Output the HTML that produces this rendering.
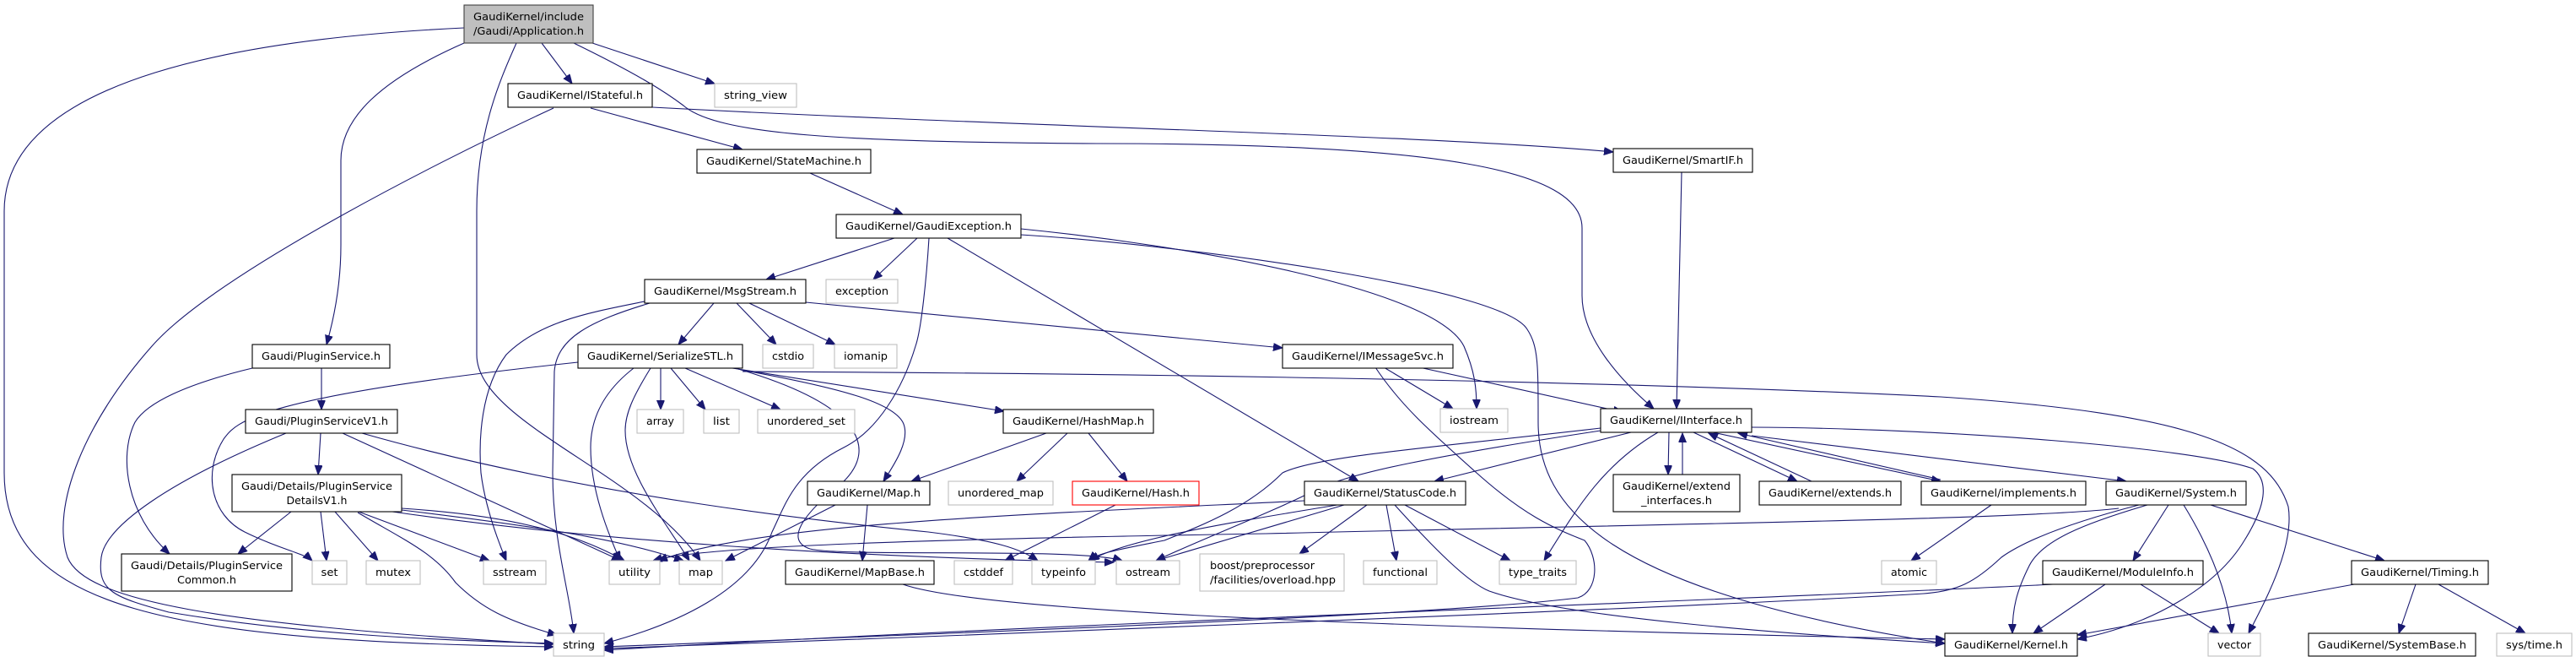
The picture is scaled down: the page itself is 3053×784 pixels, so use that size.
<!DOCTYPE html>
<html><head><meta charset="utf-8"><style>
html,body{margin:0;padding:0;background:#fff;}
svg{display:block;}
text{font-family:"DejaVu Sans","Liberation Sans",sans-serif;font-size:12px;fill:#000;}
.e{fill:none;stroke:#191970;stroke-width:1.1;}
.b{fill:#fff;stroke:#000;stroke-width:1.1;}
.g{fill:#fff;stroke:#bfbfbf;stroke-width:1.1;}
</style></head><body>
<svg width="3053" height="784" viewBox="0 0 3053 784" xmlns="http://www.w3.org/2000/svg">
<defs><marker id="a" markerUnits="userSpaceOnUse" markerWidth="12" markerHeight="10" refX="11" refY="4.5" orient="auto"><path d="M0,0 L11,4.5 L0,9 z" fill="#191970" stroke="#191970"/></marker></defs>
<g marker-end="url(#a)">
<!-- Application -->
<path class="e" d="M550,33 C300,45 5,90 5,250 L5,560 C5,720 200,760 656,766"/>
<path class="e" d="M550,51 C450,95 404,140 404,190 L404,290 C404,340 395,380 387,408"/>
<path class="e" d="M612,51 C590,100 565,160 565,250 L565,420 C565,500 760,560 830,664"/>
<path class="e" d="M642,51 L678,99"/>
<path class="e" d="M702,51 L847,99"/>
<path class="e" d="M680,51 C760,90 790,110 810,125 C850,160 1000,168 1300,170 C1700,170 1875,200 1875,270 L1875,350 C1875,400 1920,450 1960,484"/>
<!-- IStateful -->
<path class="e" d="M656,128 C500,200 250,330 180,410 C100,500 60,600 80,660 C100,710 250,740 656,763"/>
<path class="e" d="M700,128 L880,177"/>
<path class="e" d="M773,127 C1200,150 1700,160 1912,180"/>
<path class="e" d="M960,205 L1070,254"/>
<!-- GaudiException -->
<path class="e" d="M1060,282 L908,331"/>
<path class="e" d="M1087,282 L1035,331"/>
<path class="e" d="M1101,282 C1098,330 1092,390 1085,410 C1070,460 1040,510 1000,530 C940,560 930,600 915,630 C890,700 800,740 716,762"/>
<path class="e" d="M1123,282 L1610,570"/>
<path class="e" d="M1210,271 C1400,290 1700,340 1735,410 C1748,440 1750,460 1750,484"/>
<path class="e" d="M1210,278 C1400,290 1780,340 1810,390 C1823,410 1823,430 1823,500 C1823,600 1900,700 2305,762"/>
<!-- MsgStream -->
<path class="e" d="M846,359 L804,408"/>
<path class="e" d="M873,359 L920,408"/>
<path class="e" d="M888,359 L990,408"/>
<path class="e" d="M955,358 L1520,412"/>
<path class="e" d="M764,357 C700,370 640,380 600,420 C570,460 567,520 570,560 C575,600 590,640 600,664"/>
<path class="e" d="M770,359 C700,380 660,400 657,440 L655,560 C655,640 675,700 680,750"/>
<!-- SerializeSTL -->
<path class="e" d="M783,436 L783,485"/>
<path class="e" d="M795,436 L836,485"/>
<path class="e" d="M812,436 L925,485"/>
<path class="e" d="M685,425 C600,440 555,470 545,500 C530,560 560,620 600,640 C640,660 360,650 375,664" style="display:none"/>
<path class="e" d="M685,429 C620,450 585,470 575,500 C560,560 590,620 560,640" style="display:none"/>
<path class="e" d="M685,429 C300,470 280,500 265,520 C240,560 250,610 290,630 C330,650 360,655 370,664"/>
<path class="e" d="M751,436 C720,460 700,490 700,530 C700,580 720,630 735,664"/>
<path class="e" d="M771,436 C750,470 741,490 741,510 C741,560 790,620 817,664"/>
<path class="e" d="M880,440 C1500,443 2000,455 2300,470 C2600,490 2690,530 2712,600 C2720,650 2680,720 2665,750"/>
<path class="e" d="M868,436 L1190,487"/>
<path class="e" d="M878,438 C1000,460 1057,477 1070,500 C1080,520 1060,550 1047,570"/>
<path class="e" d="M875,437 C1020,480 1040,530 1000,570 C950,610 930,640 960,650 C1000,660 1280,648 1330,664"/>
<!-- PluginService -->
<path class="e" d="M381,436 L381,485"/>
<path class="e" d="M299,436 C220,455 174,477 160,500 C140,540 150,610 201,656"/>
<!-- PluginServiceV1 -->
<path class="e" d="M380,513 L377,562"/>
<path class="e" d="M339,513 C200,570 125,623 120,660 C115,700 134,707 200,725 C350,750 500,758 656,762"/>
<path class="e" d="M406,513 L736,664"/>
<path class="e" d="M429,513 C700,590 1000,620 1100,630 C1180,640 1210,650 1230,664"/>
<!-- DetailsV1 -->
<path class="e" d="M345,606 L282,656"/>
<path class="e" d="M380,606 L387,664"/>
<path class="e" d="M397,606 L448,664"/>
<path class="e" d="M425,606 L580,664"/>
<path class="e" d="M424,607 C480,640 515,655 540,690 C570,720 600,735 660,752"/>
<path class="e" d="M476,602 C600,610 680,630 740,664"/>
<path class="e" d="M476,604 C650,625 740,640 810,664"/>
<path class="e" d="M465,606 C700,640 1000,660 1320,666"/>
<!-- Map / HashMap / Hash -->
<path class="e" d="M990,598 L860,664"/>
<path class="e" d="M1028,598 L1022,664"/>
<path class="e" d="M1240,513 L1080,570"/>
<path class="e" d="M1265,513 L1205,570"/>
<path class="e" d="M1290,513 L1336,570"/>
<path class="e" d="M1322,598 L1191,664"/>
<path class="e" d="M1070,692 C1150,720 1500,740 2305,757"/>
<!-- IMessageSvc -->
<path class="e" d="M1640,435 L1722,484"/>
<path class="e" d="M1682,435 L1923,488"/>
<path class="e" d="M1630,435 C1660,480 1694,510 1750,560 C1806,610 1840,625 1878,640 C1895,660 1895,700 1870,708 C1700,730 1000,755 716,766"/>
<!-- IInterface -->
<path class="e" d="M1933,512 L1700,570"/>
<path class="e" d="M1978,512 L1977,562"/>
<path class="e" d="M1994,562 L1994,513"/>
<path class="e" d="M2007,512 L2130,570"/>
<path class="e" d="M2147,570 L2025,513"/>
<path class="e" d="M2030,512 L2300,570"/>
<path class="e" d="M2300,568 L2060,513"/>
<path class="e" d="M1965,512 C1900,550 1870,600 1830,664"/>
<path class="e" d="M1897,507 C1700,530 1560,540 1520,560 C1480,600 1430,620 1380,640 C1330,650 1300,655 1290,664"/>
<path class="e" d="M1897,510 C1700,540 1600,560 1560,580 C1500,610 1420,640 1370,664"/>
<path class="e" d="M2076,516 L2520,570"/>
<path class="e" d="M2076,506 C2300,507 2600,530 2670,555 C2690,570 2685,600 2660,640 C2627,695 2550,740 2462,757"/>
<!-- System -->
<path class="e" d="M2570,598 L2528,664"/>
<path class="e" d="M2588,598 C2620,650 2640,700 2645,750"/>
<path class="e" d="M2620,598 L2826,664"/>
<path class="e" d="M2545,598 C2470,620 2420,640 2405,670 C2390,700 2385,720 2385,750"/>
<path class="e" d="M2535,598 C2450,620 2400,640 2372,660 C2340,690 2320,700 2280,703 C2000,720 1000,758 716,768"/>
<path class="e" d="M2511,602 C2400,615 2000,620 1500,632 C1000,640 820,650 774,664"/>
<!-- ModuleInfo / Timing -->
<path class="e" d="M2495,692 L2410,750"/>
<path class="e" d="M2537,692 L2630,750"/>
<path class="e" d="M2433,692 C2200,705 1200,740 716,770"/>
<path class="e" d="M2790,692 L2462,752"/>
<path class="e" d="M2863,692 L2843,750"/>
<path class="e" d="M2890,692 L2993,750"/>
<!-- StatusCode -->
<path class="e" d="M1620,598 L1540,656"/>
<path class="e" d="M1643,598 L1655,664"/>
<path class="e" d="M1665,598 L1790,664"/>
<path class="e" d="M1653,598 C1700,650 1740,690 1765,700 C1850,730 2100,750 2305,762"/>
<path class="e" d="M1593,598 L1370,664"/>
<path class="e" d="M1585,598 C1450,620 1330,640 1292,664"/>
<path class="e" d="M1546,593 C1200,610 900,620 780,664"/>
<!-- implements / SmartIF -->
<path class="e" d="M2360,598 L2265,664"/>
<path class="e" d="M1993,204 L1987,484"/>
</g>
<!-- nodes -->
<g>
<rect x="550" y="6" width="153" height="45" fill="#bfbfbf" stroke="#404040" stroke-width="1.1"/>
<text x="626.5" y="24" text-anchor="middle" textLength="131" lengthAdjust="spacingAndGlyphs">GaudiKernel/include</text>
<text x="626.5" y="41" text-anchor="middle" textLength="131" lengthAdjust="spacingAndGlyphs">/Gaudi/Application.h</text>
</g>
<g id="nodes"></g>
<script>
</script>
<g>
<rect class="b" x="602" y="99" width="171" height="28"/><text x="687.5" y="117" text-anchor="middle" textLength="149" lengthAdjust="spacingAndGlyphs">GaudiKernel/IStateful.h</text>
<rect class="g" x="847" y="99" width="97" height="28"/><text x="895.5" y="117" text-anchor="middle" textLength="75" lengthAdjust="spacingAndGlyphs">string_view</text>
<rect class="b" x="826" y="177" width="206" height="28"/><text x="929" y="195" text-anchor="middle" textLength="184" lengthAdjust="spacingAndGlyphs">GaudiKernel/StateMachine.h</text>
<rect class="b" x="1912" y="176" width="165" height="28"/><text x="1994.5" y="194" text-anchor="middle" textLength="143" lengthAdjust="spacingAndGlyphs">GaudiKernel/SmartIF.h</text>
<rect class="b" x="991" y="254" width="219" height="28"/><text x="1100.5" y="272" text-anchor="middle" textLength="197" lengthAdjust="spacingAndGlyphs">GaudiKernel/GaudiException.h</text>
<rect class="b" x="764" y="331" width="191" height="28"/><text x="859.5" y="349" text-anchor="middle" textLength="169" lengthAdjust="spacingAndGlyphs">GaudiKernel/MsgStream.h</text>
<rect class="g" x="979" y="331" width="85" height="28"/><text x="1021.5" y="349" text-anchor="middle" textLength="63" lengthAdjust="spacingAndGlyphs">exception</text>
<rect class="b" x="299" y="408" width="163" height="28"/><text x="380.5" y="426" text-anchor="middle" textLength="141" lengthAdjust="spacingAndGlyphs">Gaudi/PluginService.h</text>
<rect class="b" x="685" y="408" width="195" height="28"/><text x="782.5" y="426" text-anchor="middle" textLength="173" lengthAdjust="spacingAndGlyphs">GaudiKernel/SerializeSTL.h</text>
<rect class="g" x="904" y="408" width="60" height="28"/><text x="934" y="426" text-anchor="middle" textLength="38" lengthAdjust="spacingAndGlyphs">cstdio</text>
<rect class="g" x="989" y="408" width="74" height="28"/><text x="1026" y="426" text-anchor="middle" textLength="52" lengthAdjust="spacingAndGlyphs">iomanip</text>
<rect class="b" x="1520" y="408" width="202" height="28"/><text x="1621" y="426" text-anchor="middle" textLength="180" lengthAdjust="spacingAndGlyphs">GaudiKernel/IMessageSvc.h</text>
<rect class="b" x="291" y="485" width="180" height="28"/><text x="381" y="503" text-anchor="middle" textLength="158" lengthAdjust="spacingAndGlyphs">Gaudi/PluginServiceV1.h</text>
<rect class="g" x="755" y="485" width="55" height="28"/><text x="782.5" y="503" text-anchor="middle" textLength="33" lengthAdjust="spacingAndGlyphs">array</text>
<rect class="g" x="834" y="485" width="42" height="28"/><text x="855" y="503" text-anchor="middle" textLength="20" lengthAdjust="spacingAndGlyphs">list</text>
<rect class="g" x="898" y="485" width="115" height="28"/><text x="955.5" y="503" text-anchor="middle" textLength="93" lengthAdjust="spacingAndGlyphs">unordered_set</text>
<rect class="b" x="1189" y="485" width="178" height="28"/><text x="1278" y="503" text-anchor="middle" textLength="156" lengthAdjust="spacingAndGlyphs">GaudiKernel/HashMap.h</text>
<rect class="g" x="1707" y="484" width="80" height="28"/><text x="1747" y="502" text-anchor="middle" textLength="58" lengthAdjust="spacingAndGlyphs">iostream</text>
<rect class="b" x="1897" y="484" width="179" height="28"/><text x="1986.5" y="502" text-anchor="middle" textLength="157" lengthAdjust="spacingAndGlyphs">GaudiKernel/IInterface.h</text>
<rect class="b" x="275" y="562" width="201" height="44"/><text x="375.5" y="580" text-anchor="middle" textLength="179" lengthAdjust="spacingAndGlyphs">Gaudi/Details/PluginService</text><text x="375.5" y="597" text-anchor="middle" textLength="72" lengthAdjust="spacingAndGlyphs">DetailsV1.h</text>
<rect class="b" x="957" y="570" width="145" height="28"/><text x="1029.5" y="588" text-anchor="middle" textLength="123" lengthAdjust="spacingAndGlyphs">GaudiKernel/Map.h</text>
<rect class="g" x="1124" y="570" width="124" height="28"/><text x="1186" y="588" text-anchor="middle" textLength="102" lengthAdjust="spacingAndGlyphs">unordered_map</text>
<rect x="1271" y="570" width="150" height="28" fill="#fff" stroke="#ff0000" stroke-width="1.1"/><text x="1346" y="588" text-anchor="middle" textLength="128" lengthAdjust="spacingAndGlyphs">GaudiKernel/Hash.h</text>
<rect class="b" x="1546" y="570" width="191" height="28"/><text x="1641.5" y="588" text-anchor="middle" textLength="169" lengthAdjust="spacingAndGlyphs">GaudiKernel/StatusCode.h</text>
<rect class="b" x="1912" y="562" width="150" height="44"/><text x="1987" y="580" text-anchor="middle" textLength="128" lengthAdjust="spacingAndGlyphs">GaudiKernel/extend</text><text x="1987" y="597" text-anchor="middle" textLength="84" lengthAdjust="spacingAndGlyphs">_interfaces.h</text>
<rect class="b" x="2085" y="570" width="168" height="28"/><text x="2169" y="588" text-anchor="middle" textLength="146" lengthAdjust="spacingAndGlyphs">GaudiKernel/extends.h</text>
<rect class="b" x="2277" y="570" width="195" height="28"/><text x="2374.5" y="588" text-anchor="middle" textLength="173" lengthAdjust="spacingAndGlyphs">GaudiKernel/implements.h</text>
<rect class="b" x="2496" y="570" width="166" height="28"/><text x="2579" y="588" text-anchor="middle" textLength="144" lengthAdjust="spacingAndGlyphs">GaudiKernel/System.h</text>
<rect class="b" x="144" y="656" width="202" height="44"/><text x="245" y="674" text-anchor="middle" textLength="180" lengthAdjust="spacingAndGlyphs">Gaudi/Details/PluginService</text><text x="245" y="691" text-anchor="middle" textLength="70" lengthAdjust="spacingAndGlyphs">Common.h</text>
<rect class="g" x="370" y="664" width="41" height="28"/><text x="390.5" y="682" text-anchor="middle" textLength="20" lengthAdjust="spacingAndGlyphs">set</text>
<rect class="g" x="434" y="664" width="64" height="28"/><text x="466" y="682" text-anchor="middle" textLength="42" lengthAdjust="spacingAndGlyphs">mutex</text>
<rect class="g" x="573" y="664" width="74" height="28"/><text x="610" y="682" text-anchor="middle" textLength="52" lengthAdjust="spacingAndGlyphs">sstream</text>
<rect class="g" x="722" y="664" width="60" height="28"/><text x="752" y="682" text-anchor="middle" textLength="38" lengthAdjust="spacingAndGlyphs">utility</text>
<rect class="g" x="805" y="664" width="51" height="28"/><text x="830.5" y="682" text-anchor="middle" textLength="29" lengthAdjust="spacingAndGlyphs">map</text>
<rect class="b" x="931" y="664" width="176" height="28"/><text x="1019" y="682" text-anchor="middle" textLength="154" lengthAdjust="spacingAndGlyphs">GaudiKernel/MapBase.h</text>
<rect class="g" x="1131" y="664" width="69" height="28"/><text x="1165.5" y="682" text-anchor="middle" textLength="47" lengthAdjust="spacingAndGlyphs">cstddef</text>
<rect class="g" x="1223" y="664" width="75" height="28"/><text x="1260.5" y="682" text-anchor="middle" textLength="53" lengthAdjust="spacingAndGlyphs">typeinfo</text>
<rect class="g" x="1323" y="664" width="75" height="28"/><text x="1360.5" y="682" text-anchor="middle" textLength="53" lengthAdjust="spacingAndGlyphs">ostream</text>
<rect class="g" x="1422" y="656" width="171" height="44"/><text x="1434" y="674" textLength="124" lengthAdjust="spacingAndGlyphs">boost/preprocessor</text><text x="1434" y="691" textLength="149" lengthAdjust="spacingAndGlyphs">/facilities/overload.hpp</text>
<rect class="g" x="1616" y="664" width="87" height="28"/><text x="1659.5" y="682" text-anchor="middle" textLength="65" lengthAdjust="spacingAndGlyphs">functional</text>
<rect class="g" x="1777" y="664" width="91" height="28"/><text x="1822.5" y="682" text-anchor="middle" textLength="69" lengthAdjust="spacingAndGlyphs">type_traits</text>
<rect class="g" x="2230" y="664" width="65" height="28"/><text x="2262.5" y="682" text-anchor="middle" textLength="43" lengthAdjust="spacingAndGlyphs">atomic</text>
<rect class="b" x="2421" y="664" width="190" height="28"/><text x="2516" y="682" text-anchor="middle" textLength="168" lengthAdjust="spacingAndGlyphs">GaudiKernel/ModuleInfo.h</text>
<rect class="b" x="2787" y="664" width="162" height="28"/><text x="2868" y="682" text-anchor="middle" textLength="140" lengthAdjust="spacingAndGlyphs">GaudiKernel/Timing.h</text>
<rect class="g" x="656" y="750" width="60" height="27"/><text x="686" y="768" text-anchor="middle" textLength="38" lengthAdjust="spacingAndGlyphs">string</text>
<rect class="b" x="2305" y="750" width="157" height="27"/><text x="2383.5" y="768" text-anchor="middle" textLength="135" lengthAdjust="spacingAndGlyphs">GaudiKernel/Kernel.h</text>
<rect class="g" x="2617" y="750" width="62" height="27"/><text x="2648" y="768" text-anchor="middle" textLength="40" lengthAdjust="spacingAndGlyphs">vector</text>
<rect class="b" x="2736" y="750" width="198" height="27"/><text x="2835" y="768" text-anchor="middle" textLength="176" lengthAdjust="spacingAndGlyphs">GaudiKernel/SystemBase.h</text>
<rect class="g" x="2959" y="750" width="89" height="27"/><text x="3003.5" y="768" text-anchor="middle" textLength="67" lengthAdjust="spacingAndGlyphs">sys/time.h</text>
</g>
</svg>
</body></html>
